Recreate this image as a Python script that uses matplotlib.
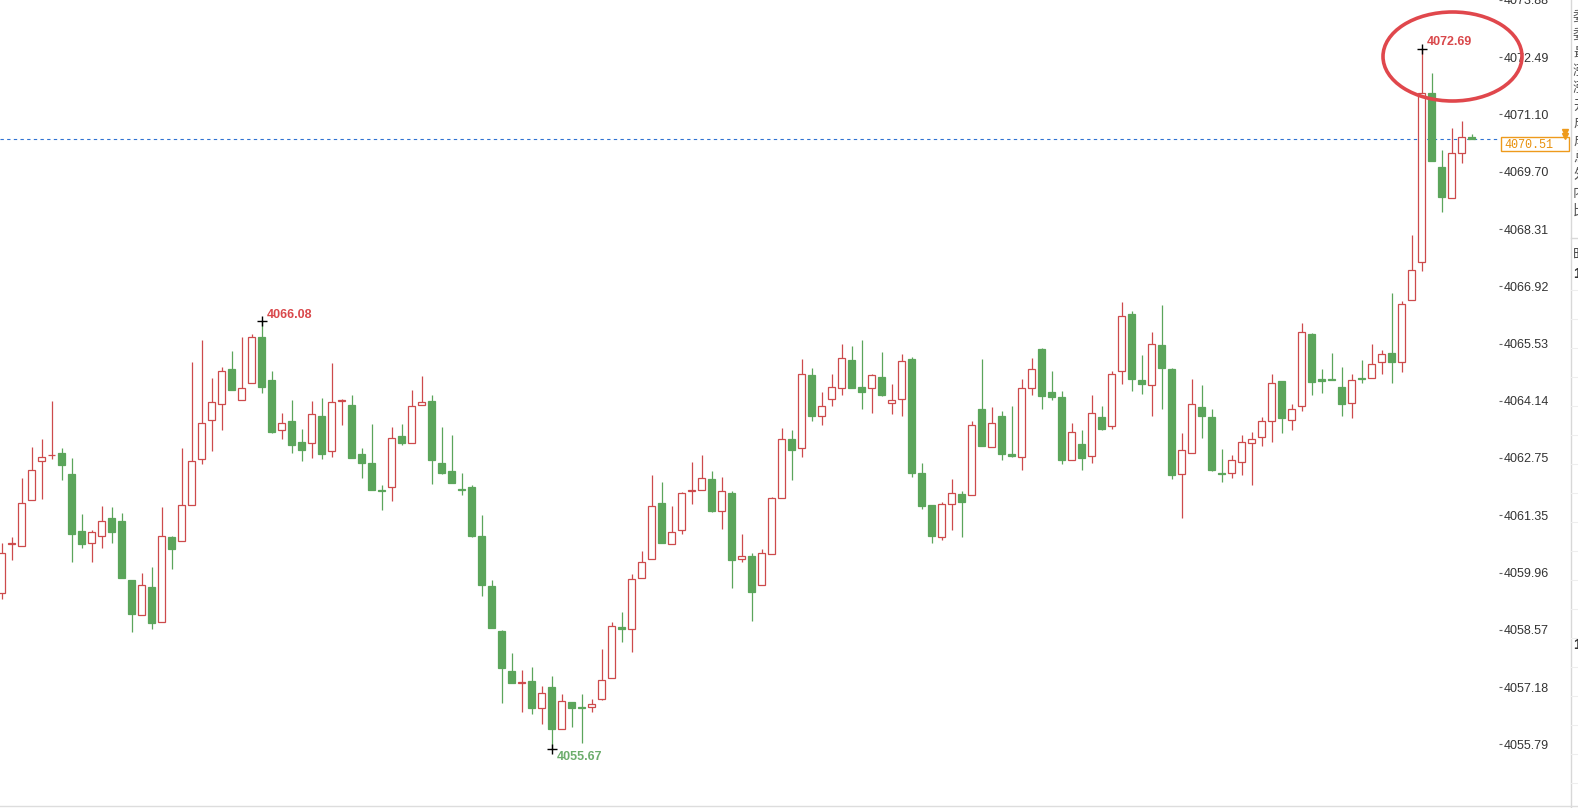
import matplotlib
matplotlib.use('Agg')
import matplotlib.pyplot as plt
import matplotlib.transforms as mtransforms
from matplotlib.patches import Rectangle, Ellipse
from matplotlib.lines import Line2D

plt.rcParams['font.family'] = ['Liberation Sans', 'Noto Sans CJK SC', 'DejaVu Sans']

# candle data (oldest first)
opens = [
    4059.47, 4060.66, 4060.60, 4061.72, 4062.67, 4062.81, 4062.86, 4062.36, 4060.98, 4060.68,
    4060.85, 4061.29, 4061.22, 4059.77, 4058.92, 4059.62, 4058.76, 4060.83, 4060.73, 4061.60,
    4062.72, 4063.66, 4064.07, 4064.92, 4064.15, 4064.56, 4065.70, 4064.64, 4063.42, 4063.64,
    4063.13, 4063.10, 4063.78, 4062.91, 4064.13, 4064.03, 4062.84, 4062.63, 4061.96, 4062.04,
    4063.28, 4063.10, 4064.04, 4064.13, 4062.63, 4062.43, 4062.00, 4062.04, 4060.86, 4059.64,
    4058.55, 4057.58, 4057.29, 4057.32, 4056.66, 4057.17, 4056.17, 4056.81, 4056.69, 4056.70,
    4056.89, 4057.40, 4058.64, 4058.60, 4059.83, 4060.29, 4061.66, 4060.66, 4060.99, 4061.95,
    4061.96, 4062.23, 4061.45, 4061.90, 4060.29, 4060.37, 4059.66, 4060.41, 4061.77, 4063.20,
    4062.98, 4064.76, 4063.78, 4064.17, 4064.44, 4065.12, 4064.47, 4064.46, 4064.71, 4064.09,
    4064.18, 4065.15, 4062.38, 4061.61, 4060.82, 4061.62, 4061.87, 4061.84, 4063.93, 4063.01,
    4063.78, 4062.84, 4062.76, 4064.45, 4065.39, 4064.35, 4064.24, 4062.69, 4063.08, 4062.79,
    4063.74, 4063.53, 4064.87, 4066.24, 4064.64, 4064.51, 4065.49, 4064.90, 4062.37, 4062.86,
    4063.98, 4063.74, 4062.38, 4062.38, 4062.65, 4063.10, 4063.26, 4063.64, 4064.61, 4063.66,
    4064.00, 4065.75, 4064.66, 4064.67, 4064.48, 4064.09, 4064.69, 4064.70, 4065.07, 4065.31,
    4065.07, 4066.59, 4067.50, 4071.62, 4069.82, 4069.07, 4070.16, 4070.55,
]
highs = [
    4060.69, 4060.83, 4062.25, 4063.01, 4063.20, 4064.13, 4063.00, 4062.74, 4061.38, 4060.99,
    4061.58, 4061.56, 4061.41, 4059.79, 4059.95, 4060.10, 4061.56, 4060.85, 4063.00, 4065.07,
    4065.61, 4064.68, 4064.95, 4065.36, 4065.68, 4065.76, 4066.08, 4064.87, 4063.84, 4064.16,
    4063.45, 4064.13, 4064.20, 4065.06, 4064.19, 4064.27, 4063.00, 4063.57, 4062.09, 4063.50,
    4063.58, 4064.40, 4064.73, 4064.27, 4063.51, 4063.31, 4062.38, 4062.09, 4061.36, 4059.77,
    4058.57, 4058.00, 4057.60, 4057.66, 4057.20, 4057.46, 4057.00, 4056.81, 4057.02, 4056.90,
    4058.11, 4058.76, 4059.01, 4059.93, 4060.49, 4062.33, 4062.17, 4061.58, 4061.92, 4062.65,
    4062.81, 4062.42, 4062.29, 4061.95, 4060.90, 4060.44, 4060.53, 4061.80, 4063.47, 4063.44,
    4065.16, 4064.94, 4064.35, 4064.78, 4065.52, 4065.46, 4065.61, 4064.78, 4065.32, 4064.55,
    4065.28, 4065.20, 4062.63, 4061.61, 4061.68, 4062.23, 4061.95, 4063.64, 4065.16, 4063.98,
    4063.89, 4064.02, 4064.66, 4065.19, 4065.41, 4064.86, 4064.37, 4063.59, 4063.43, 4064.27,
    4064.01, 4064.87, 4066.53, 4066.31, 4065.24, 4065.80, 4066.46, 4064.94, 4063.35, 4064.66,
    4064.52, 4063.93, 4062.97, 4062.82, 4063.30, 4063.38, 4063.74, 4064.78, 4064.63, 4064.07,
    4066.02, 4065.78, 4064.90, 4065.29, 4064.95, 4064.78, 4065.13, 4065.53, 4065.38, 4066.75,
    4066.57, 4068.18, 4072.69, 4072.10, 4070.24, 4070.77, 4070.93, 4070.62,
]
lows = [
    4059.32, 4060.27, 4060.60, 4061.72, 4061.76, 4062.72, 4062.21, 4060.21, 4060.57, 4060.23,
    4060.57, 4060.67, 4059.82, 4058.51, 4058.92, 4058.59, 4058.76, 4060.04, 4060.73, 4061.60,
    4062.59, 4062.92, 4063.44, 4064.39, 4064.15, 4064.56, 4064.33, 4063.36, 4063.20, 4062.88,
    4062.68, 4062.75, 4062.72, 4062.78, 4063.55, 4062.75, 4062.25, 4061.97, 4061.49, 4061.71,
    4063.07, 4063.10, 4064.04, 4062.12, 4062.35, 4062.15, 4061.84, 4060.82, 4059.39, 4058.61,
    4056.79, 4057.28, 4056.57, 4056.53, 4056.27, 4055.67, 4056.17, 4056.21, 4055.83, 4056.57,
    4056.87, 4057.40, 4058.27, 4058.03, 4059.83, 4060.29, 4060.67, 4060.66, 4060.90, 4061.62,
    4061.96, 4061.43, 4061.01, 4059.58, 4060.23, 4058.78, 4059.66, 4060.41, 4061.77, 4062.22,
    4062.78, 4063.64, 4063.56, 4064.02, 4064.27, 4064.45, 4063.94, 4063.85, 4064.25, 4063.81,
    4063.78, 4062.29, 4061.50, 4060.69, 4060.75, 4060.99, 4060.82, 4061.84, 4063.05, 4063.01,
    4062.69, 4062.78, 4062.45, 4064.29, 4063.93, 4064.15, 4062.59, 4062.69, 4062.46, 4062.63,
    4063.44, 4063.46, 4064.55, 4064.37, 4064.31, 4063.78, 4063.94, 4062.23, 4061.30, 4062.86,
    4063.24, 4062.42, 4062.17, 4062.27, 4062.33, 4062.09, 4063.05, 4063.14, 4063.36, 4063.44,
    4063.90, 4064.29, 4064.33, 4064.65, 4063.76, 4063.72, 4064.56, 4064.70, 4064.80, 4064.56,
    4064.84, 4066.59, 4067.30, 4069.96, 4068.73, 4069.07, 4069.93, 4070.51,
]
closes = [
    4060.45, 4060.69, 4061.65, 4062.45, 4062.76, 4062.83, 4062.58, 4060.91, 4060.66, 4060.95,
    4061.22, 4060.96, 4059.82, 4058.96, 4059.67, 4058.74, 4060.85, 4060.53, 4061.60, 4062.67,
    4063.59, 4064.12, 4064.87, 4064.39, 4064.46, 4065.70, 4064.48, 4063.38, 4063.61, 4063.07,
    4062.93, 4063.81, 4062.85, 4064.10, 4064.15, 4062.75, 4062.63, 4061.97, 4061.94, 4063.23,
    4063.11, 4064.00, 4064.10, 4062.71, 4062.38, 4062.15, 4061.98, 4060.86, 4059.65, 4058.61,
    4057.64, 4057.28, 4057.31, 4056.67, 4057.04, 4056.16, 4056.83, 4056.67, 4056.67, 4056.78,
    4057.36, 4058.67, 4058.59, 4059.81, 4060.22, 4061.58, 4060.67, 4060.95, 4061.90, 4061.97,
    4062.25, 4061.46, 4061.94, 4060.26, 4060.36, 4059.48, 4060.44, 4061.77, 4063.20, 4062.95,
    4064.80, 4063.77, 4064.02, 4064.48, 4065.19, 4064.45, 4064.35, 4064.76, 4064.27, 4064.15,
    4065.11, 4062.39, 4061.57, 4060.84, 4061.62, 4061.89, 4061.69, 4063.56, 4063.05, 4063.61,
    4062.85, 4062.80, 4064.44, 4064.92, 4064.26, 4064.23, 4062.71, 4063.39, 4062.75, 4063.85,
    4063.46, 4064.78, 4066.21, 4064.67, 4064.55, 4065.53, 4064.94, 4062.33, 4062.93, 4064.07,
    4063.78, 4062.46, 4062.35, 4062.69, 4063.13, 4063.22, 4063.64, 4064.56, 4063.72, 4063.95,
    4065.82, 4064.60, 4064.63, 4064.65, 4064.06, 4064.64, 4064.67, 4065.04, 4065.28, 4065.08,
    4066.50, 4067.32, 4071.62, 4069.96, 4069.08, 4070.15, 4070.54, 4070.51,
]

price_ticks = [4073.88, 4072.49, 4071.10, 4069.70, 4068.31, 4066.92, 4065.53,
               4064.14, 4062.75, 4061.35, 4059.96, 4058.57, 4057.18, 4055.79]
last_price = closes[-1]

side_chars = ['委', '委', '最', '涨', '涨', '开', '成', '成', '总', '外', '内', '比']

RED = '#cd4a4c'
GREEN = '#5ba55b'
LABEL_RED = '#d9484b'
LABEL_GREEN = '#6cad6c'
ORANGE = '#ee9a1c'

W, H = 1578, 808
fig = plt.figure(figsize=(W / 100, H / 100), dpi=100)
ax = fig.add_axes([0, 0, 1499 / W, 1])
ax.set_xlim(-0.17, 149.73)
ax.set_ylim(4054.24, 4073.82)

for i, (o, h, l, c) in enumerate(zip(opens, highs, lows, closes)):
    up = c >= o
    col = RED if up else GREEN
    ax.vlines(i, l, h, color=col, lw=0.9, zorder=1)
    ax.add_patch(Rectangle((i - 0.34, min(o, c)), 0.68, max(abs(c - o), 0.002),
                           facecolor='white' if up else col, edgecolor=col,
                           lw=0.9, zorder=2))

# current price line
ax.axhline(last_price, color='#2f72d2', lw=0.8, ls=(0, (3, 3)), zorder=0)

# extremes with cross markers
def mark(idx, val, txt_col, dy):
    ax.plot(idx, val, marker='+', color='black', ms=7, mew=1, zorder=6)
    ax.annotate(f'{val:.2f}', (idx, val), xytext=(5, dy), textcoords='offset pixels',
                color=txt_col, fontweight='bold', fontsize=9, va='center', ha='left')

hi = max(range(len(highs)), key=lambda k: highs[k])
lo = min(range(len(lows)), key=lambda k: lows[k])
hi_left = max(range(60), key=lambda k: highs[k])
mark(hi, highs[hi], LABEL_RED, 7)
mark(hi_left, highs[hi_left], LABEL_RED, 6)
mark(lo, lows[lo], LABEL_GREEN, -8)

ax.yaxis.tick_right()
ax.set_yticks(price_ticks)
ax.set_yticklabels([f'{v:.2f}' for v in price_ticks])
ax.tick_params(axis='y', direction='out', length=2.5, width=0.8, color='#666666',
               pad=0.6, labelsize=9, labelcolor='#333333')
ax.set_xticks([])
for s in ax.spines.values():
    s.set_visible(False)

# price box on the axis
trans = mtransforms.blended_transform_factory(ax.transAxes, ax.transData)
ax.add_patch(Rectangle((1.0013, last_price - 0.31), 0.0454, 0.34, transform=trans,
                       facecolor='white', edgecolor=ORANGE, lw=1, clip_on=False, zorder=5))
ax.text(1.0035, last_price - 0.145, f'{last_price:.2f}', transform=trans,
        family='Liberation Mono', fontsize=8.5, color='#e8900c',
        va='center', ha='left', clip_on=False, zorder=6)
ax.plot([1.044, 1.044], [last_price + 0.17, last_price + 0.07], transform=trans,
        ls='none', marker='v', ms=4, color=ORANGE, clip_on=False, zorder=6)

# red circle around the top
fig.add_artist(Ellipse((1452.5 / W, 1 - 56.5 / H), 139 / W, 89 / H,
                       transform=fig.transFigure, fill=False,
                       edgecolor='#e0474c', lw=2.6, zorder=10))

# right side panel, mostly cut off
fig.add_artist(Line2D([1571 / W] * 2, [0, 1], transform=fig.transFigure,
                      color='#d8d8d8', lw=1))
for k, ch in enumerate(side_chars):
    fig.text(1573 / W, 1 - (18 + k * 17.5) / H, ch, fontsize=10, color='#555555',
             va='center', ha='left', family=['Noto Sans CJK SC'])
fig.add_artist(Line2D([1571 / W, 1], [1 - 238 / H] * 2, transform=fig.transFigure,
                      color='#d8d8d8', lw=1))
fig.text(1573 / W, 1 - 255 / H, '时', fontsize=10, color='#444444',
         va='center', ha='left', family=['Noto Sans CJK SC'])
fig.text(1573 / W, 1 - 274 / H, '1', fontsize=10, fontweight='bold', color='#333333',
         va='center', ha='left')
fig.text(1573 / W, 1 - 645 / H, '1', fontsize=10, fontweight='bold', color='#333333',
         va='center', ha='left')
for yy in range(290, 800, 29):
    fig.add_artist(Line2D([1571 / W, 1], [1 - yy / H] * 2, transform=fig.transFigure,
                          color='#eeeeee', lw=0.8))

# bottom border and faint watermark
fig.add_artist(Line2D([0, 1], [1 - 806 / H] * 2, transform=fig.transFigure,
                      color='#dddddd', lw=1))
fig.add_artist(Rectangle((640 / W, 1 - 785 / H), 300 / W, 30 / H, transform=fig.transFigure,
                         facecolor='#f4f4f4', edgecolor='none', zorder=0))
fig.add_artist(Rectangle((645 / W, 1 - 790 / H), 22 / W, 40 / H, transform=fig.transFigure,
                         facecolor='#e9e9e9', edgecolor='none', zorder=0))
fig.add_artist(Rectangle((670 / W, 1 - 788 / H), 9 / W, 46 / H, transform=fig.transFigure,
                         facecolor='#dedede', edgecolor='none', zorder=0))

fig.savefig('out.png', dpi=100)
